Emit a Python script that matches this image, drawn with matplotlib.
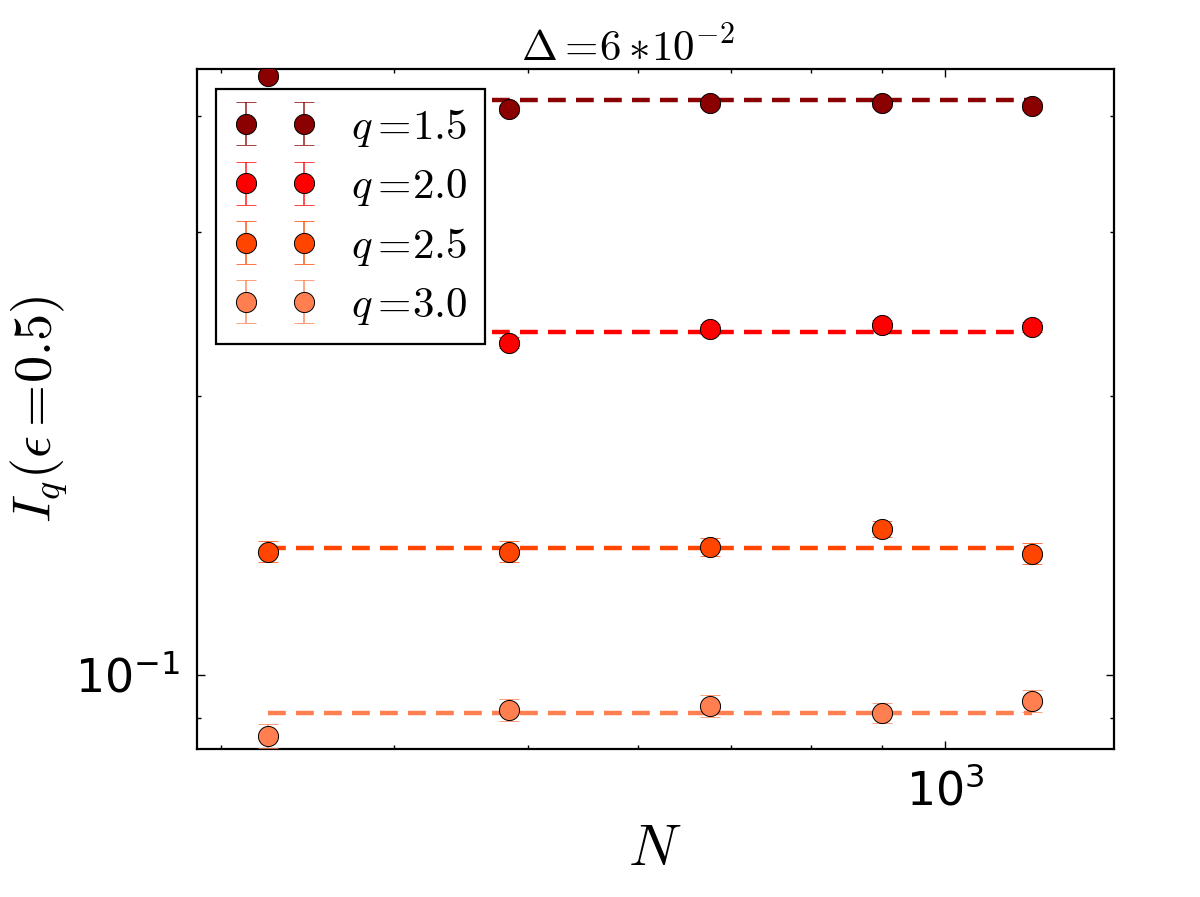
import numpy as np
import matplotlib
matplotlib.use("Agg")
import matplotlib.pyplot as plt
from matplotlib.colors import to_rgba

plt.rcParams['mathtext.fontset'] = 'cm'
plt.rcParams['axes.unicode_minus'] = False
plt.rcParams['xtick.direction'] = 'in'
plt.rcParams['ytick.direction'] = 'in'

# system sizes N = L^2
N = np.array([324, 484, 676, 900, 1156])
q_vals = ["1.5", "2.0", "2.5", "3.0"]
colors = ["#8b0000", "#ff0000", "#ff4500", "#ff7f50"]

# I_q(eps=0.5)
I_q15 = [0.442, 0.407, 0.413, 0.413, 0.410]
I_q20 = [0.236, 0.228, 0.236, 0.238, 0.237]
I_q25 = [0.1358, 0.1358, 0.1374, 0.1437, 0.1351]
I_q30 = [0.0860, 0.0918, 0.0927, 0.0911, 0.0938]
err_q15 = [0.004, 0.004, 0.004, 0.004, 0.004]
err_q20 = [0.003, 0.003, 0.003, 0.003, 0.003]
err_q25 = [0.0035, 0.0035, 0.003, 0.003, 0.0035]
err_q30 = [0.0025, 0.0025, 0.0025, 0.0022, 0.0025]
# horizontal fits
fit_vals = [0.4162, 0.2342, 0.1371, 0.0911]

data = [I_q15, I_q20, I_q25, I_q30]
errs = [err_q15, err_q20, err_q25, err_q30]

fig = plt.figure(figsize=(12, 8.97), dpi=100)
ax = fig.add_axes([0.164, 0.1647, 0.764, 0.758])

for i in range(4):
    ax.errorbar(N, data[i], yerr=errs[i], fmt='o', color=colors[i],
                ecolor=to_rgba(colors[i], 0.75), elinewidth=1.3, capsize=7,
                capthick=1.3, ms=14.5, mec='black', mew=0.7,
                label=r"$q=\!%s$" % q_vals[i], zorder=3)
    ax.plot([N[0], N[-1]], [fit_vals[i]] * 2, color=colors[i], lw=3.2,
            ls=(0, (4.0, 2.3)), zorder=2)

ax.set_xscale('log')
ax.set_yscale('log')
ax.set_xlim(288, 1324)
ax.set_ylim(0.0832, 0.449)

for sp in ax.spines.values():
    sp.set_linewidth(1.6)
ax.tick_params(which='both', top=True, right=True)
ax.tick_params(which='major', length=6, width=1, labelsize=33)
ax.tick_params(axis='y', which='major', pad=12)
ax.tick_params(axis='x', which='major', pad=14)
ax.tick_params(which='minor', length=3, width=1)
ax.yaxis.set_minor_formatter(matplotlib.ticker.NullFormatter())
ax.xaxis.set_minor_formatter(matplotlib.ticker.NullFormatter())

ax.set_xlabel("$N$", fontsize=42, labelpad=4)
ax.set_ylabel(r"$I_q(\epsilon=\!0.5)$", fontsize=39, labelpad=4)
ax.set_title(r"$\Delta=\!6*\!10^{-2}$", fontsize=31, x=0.47)

leg = ax.legend(loc='upper left', numpoints=2, fontsize=31, fancybox=False,
                framealpha=1, edgecolor='black', handlelength=1.95,
                handletextpad=0.79, borderpad=0.4, labelspacing=0.38,
                borderaxespad=0.45)
leg.get_frame().set_linewidth(1.6)
leg.set_zorder(10)

fig.savefig("out.png", dpi=100, facecolor='white')
